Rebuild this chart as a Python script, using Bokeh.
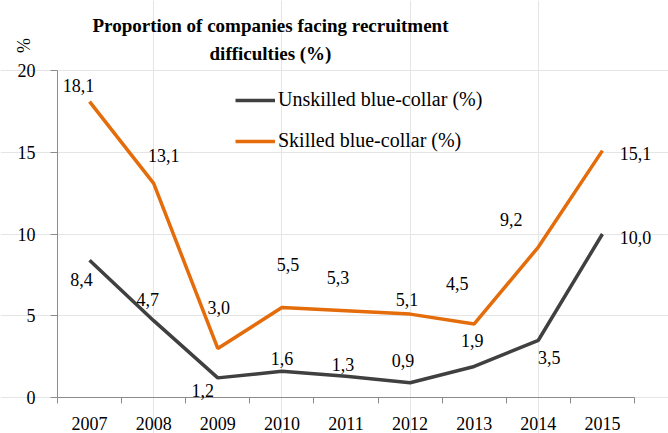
from bokeh.plotting import figure
from bokeh.models import (ColumnDataSource, FixedTicker, Range1d, LabelSet, Label,
                          Legend, LegendItem, LinearAxis)
from bokeh.embed import file_html
from bokeh.resources import INLINE

years = [2007, 2008, 2009, 2010, 2011, 2012, 2013, 2014, 2015]
unskilled = [8.4, 4.7, 1.2, 1.6, 1.3, 0.9, 1.9, 3.5, 10.0]
skilled = [18.1, 13.1, 3.0, 5.5, 5.3, 5.1, 4.5, 9.2, 15.1]
y_ticks = [0, 5, 10, 15, 20]
title_lines = ["Proportion of companies facing recruitment", "difficulties (%)"]
series_names = ["Unskilled blue-collar (%)", "Skilled blue-collar (%)"]
y_unit = "%"

# label placement offsets (pixels, x right / y up)
sk_dx = [-11, 10, 1, 6, -8, -3, -17, -27, 33]
sk_dy = [16, 28, 41, 43, 33, 15, 40, 28, -3]
un_dx = [-8, -6, -15, 0, -3, -7, -2, 11, 33]
un_dy = [-19, 21, -13, 13, 12, 22, 26, -17, -3]

FONT = "Liberation Serif"
ORANGE = "#E46C0A"
DARK = "#404040"
AXIS = "#8C8C8C"

# layout (pixels inside the figure)
W, H = 668, 433
PL, PR, PT, PB = 57, 634, 70, 397        # plot area: x axis extent / y 20..0
YMAX = y_ticks[-1]
x0, x1 = years[0] - 0.5, years[-1] + 0.5
kx = (PR - PL) / (x1 - x0)
ky = (PB - PT) / YMAX
xr = Range1d(x0 - PL / kx, x0 + (W - PL) / kx)
yr = Range1d(-(H - PB) / ky, PB / ky)

def px_x(px):
    return x0 + (px - PL) / kx

def px_y(py):
    return (PB - py) / ky

def fmt(v):
    return f"{v:.1f}".replace(".", ",")

src_u = ColumnDataSource(dict(x=years, y=unskilled, t=[fmt(v) for v in unskilled], dx=un_dx, dy=un_dy))
src_s = ColumnDataSource(dict(x=years, y=skilled, t=[fmt(v) for v in skilled], dx=sk_dx, dy=sk_dy))

p = figure(frame_width=W, frame_height=H, output_backend="svg", toolbar_location=None,
           x_range=xr, y_range=yr, x_axis_location=None, y_axis_location=None,
           min_border=0)
p.outline_line_color = None
p.background_fill_color = "white"
p.border_fill_color = "white"

r_u = p.line("x", "y", source=src_u, line_color=DARK, line_width=3.5)
r_s = p.line("x", "y", source=src_s, line_color=ORANGE, line_width=3.5)

xa = LinearAxis(fixed_location=0, bounds=(x0, x1),
                ticker=FixedTicker(ticks=years, minor_ticks=[y - 0.5 for y in years] + [x1]))
xa.major_tick_out = 0
xa.major_tick_in = 0
xa.minor_tick_out = 6
xa.minor_tick_in = 0
xa.minor_tick_line_color = AXIS
xa.axis_line_color = AXIS
xa.major_label_standoff = 13
xa.major_label_text_font = FONT
xa.major_label_text_font_size = "18px"
xa.major_label_text_color = "black"
p.add_layout(xa, "below")

ya = LinearAxis(fixed_location=x0, bounds=(0, YMAX), ticker=FixedTicker(ticks=y_ticks))
ya.major_tick_out = 7
ya.major_tick_in = 0
ya.minor_tick_out = 0
ya.minor_tick_in = 0
ya.major_tick_line_color = AXIS
ya.axis_line_color = AXIS
ya.major_label_standoff = 15
ya.major_label_text_font = FONT
ya.major_label_text_font_size = "18px"
ya.major_label_text_color = "black"
p.add_layout(ya, "left")

for src in (src_s, src_u):
    p.add_layout(LabelSet(x="x", y="y", text="t", source=src, x_offset="dx", y_offset="dy",
                          text_font=FONT, text_font_size="18px", text_color="black",
                          text_align="center", text_baseline="middle"))

legend = Legend(items=[LegendItem(label=series_names[0], renderers=[r_u]),
                       LegendItem(label=series_names[1], renderers=[r_s])],
                location=(235, H - 152), orientation="vertical",
                glyph_width=40, glyph_height=20, label_height=20, label_standoff=3,
                spacing=18, padding=0, margin=0, border_line_color=None,
                background_fill_alpha=0, label_text_font=FONT,
                label_text_font_size="20px", label_text_color="black")
p.add_layout(legend, "center")

for text, cy in zip(title_lines, (25, 53)):
    p.add_layout(Label(x=px_x(270), y=px_y(cy), text=text,
                       text_font=FONT, text_font_style="bold", text_font_size="19px",
                       text_align="center", text_baseline="middle", text_color="black"))
p.add_layout(Label(x=px_x(23), y=px_y(45), text=y_unit, angle=1.5708,
                   text_font=FONT, text_font_size="18px",
                   text_align="center", text_baseline="middle", text_color="black"))

open("out.html", "w").write(file_html(p, INLINE))
